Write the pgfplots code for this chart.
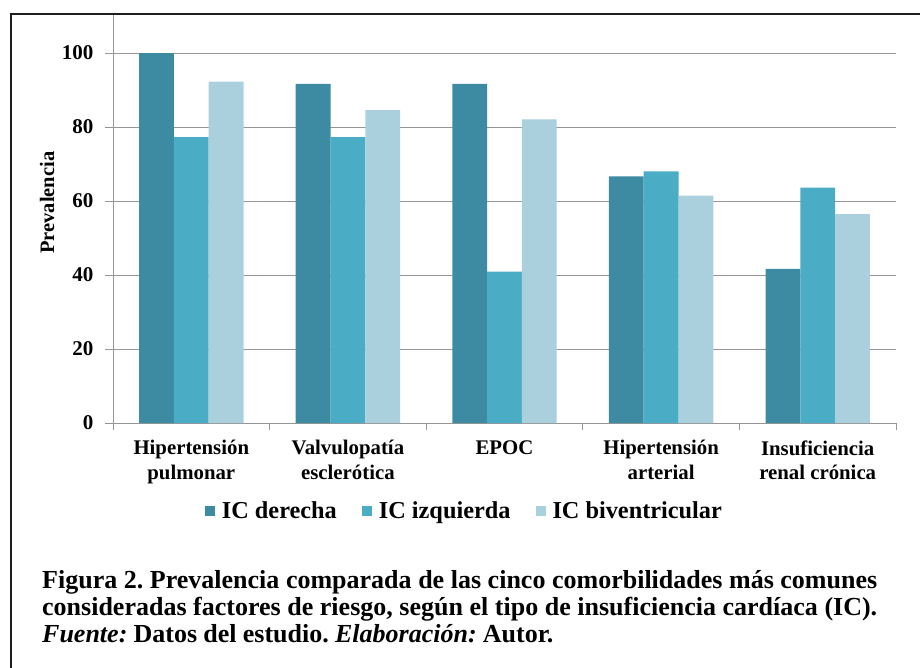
\documentclass[border=0pt]{standalone}
\usepackage{pgfplots}
\pgfplotsset{compat=1.18}
\usepackage{fontspec}
\setmainfont{Liberation Serif}
\definecolor{cdark}{HTML}{3D8BA2}
\definecolor{cmid}{HTML}{4BACC6}
\definecolor{clight}{HTML}{AACFDD}
\definecolor{gridc}{HTML}{969696}
\begin{document}
\begin{tikzpicture}[x=1pt,y=1pt]
\useasboundingbox (0,0) rectangle (920,667);
\draw[line width=2.2pt,color=black!88] (11,-5) -- (11,653) -- (930,653);
\begin{axis}[
  at={(113pt,244pt)}, anchor=south west,
  scale only axis, width=783pt, height=408pt,
  xmin=-0.5, xmax=4.5, ymin=0, ymax=110.3,
  ybar=0pt, bar width=34.8pt,
  axis lines=left, axis line style={-, draw=gridc, line width=0.9pt},
  ymajorgrids, grid style={draw=gridc, line width=0.9pt},
  ytick={0,20,40,60,80,100},
  xtick={0,1,2,3,4},
  minor xtick={-0.5,0.5,1.5,2.5,3.5,4.5},
  xticklabels={{Hipertensión\\pulmonar},{Valvulopatía\\esclerótica},{EPOC},{Hipertensión\\arterial},{Insuficiencia\\renal crónica}},
  tick align=outside,
  x tick style={draw=none},
  minor x tick style={draw=gridc, line width=0.9pt},
  minor tick length=7pt,
  y tick style={draw=gridc, line width=0.9pt},
  major tick length=8pt,
  /pgf/number format/assume math mode=true,
  yticklabel style={font=\fontsize{21}{24}\selectfont\bfseries, xshift=-8pt},
  xticklabel style={font=\fontsize{20.8}{24.5}\selectfont\bfseries, align=center, anchor=north, yshift=-6pt},
  ylabel={Prevalencia},
  ylabel style={font=\fontsize{20.5}{24}\selectfont\bfseries, at={(axis description cs:-0.0843,0.540)}, anchor=center},
  legend columns=3,
  legend style={draw=none, fill=none, at={(axis description cs:0.452,-0.215)}, anchor=center,
    font=\fontsize{24.3}{26}\selectfont\bfseries,
    nodes={inner xsep=7pt},
    /tikz/every even column/.append style={column sep=18pt}},
  legend image code/.code={\fill[#1] (0pt,-5pt) rectangle (10pt,5pt);},
]
\addplot[fill=cdark, draw=none] coordinates {(0,100) (1,91.7) (2,91.7) (3,66.7) (4,41.7)};
\addplot[fill=cmid, draw=none] coordinates {(0,77.3) (1,77.3) (2,40.9) (3,68.0) (4,63.6)};
\addplot[fill=clight, draw=none] coordinates {(0,92.3) (1,84.6) (2,82.1) (3,61.5) (4,56.5)};
\legend{IC derecha, IC izquierda, IC biventricular}
\end{axis}
\frenchspacing
\begin{scope}[every node/.style={inner sep=0pt, anchor=base west, font=\fontsize{26}{27}\selectfont\bfseries}]
\node at (42,79) {\spaceskip=0.24em plus 0.4em minus 0.16em\hbox to 835pt{Figura 2. Prevalencia comparada de las cinco comorbilidades más comunes}};
\node at (42,52) {\spaceskip=0.24em plus 0.4em minus 0.16em\hbox to 835pt{consideradas factores de riesgo, según el tipo de insuficiencia cardíaca (IC).}};
\node at (42,25) {\spaceskip=0.24em plus 0.4em minus 0.16em\textit{Fuente:} Datos del estudio. \textit{Elaboración:} Autor.};
\end{scope}
\end{tikzpicture}
\end{document}
